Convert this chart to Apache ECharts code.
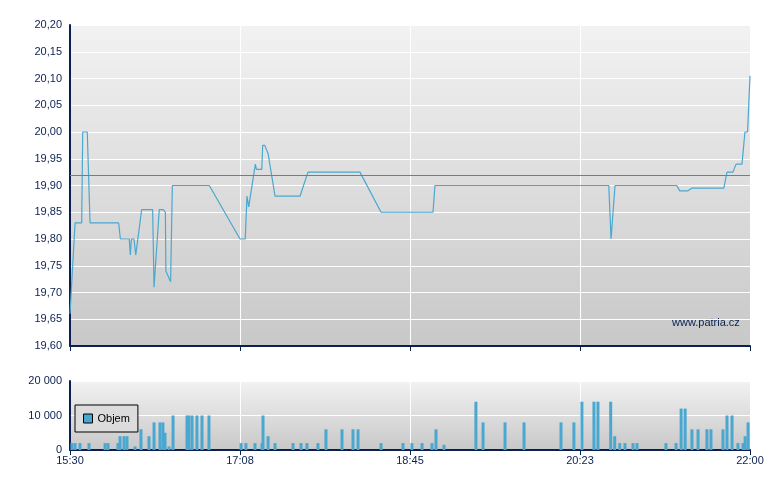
<!DOCTYPE html>
<html><head><meta charset="utf-8">
<script src="https://cdn.jsdelivr.net/npm/echarts@6/dist/echarts.min.js"></script>
<style>html,body{margin:0;padding:0;background:#fff}#c{width:780px;height:490px}</style>
</head><body><div id="c"></div>
<script>
// minutes since 15:30
const priceTimes = [0,2.9,6.7,7.3,9.9,11.5,27.9,28.9,34,34.6,35.2,36.7,37.7,41.1,47.4,48.2,51.2,53.5,54.7,55,57.7,58.7,79.9,97.5,100.5,101.5,102.5,106.3,106.9,110,110.5,111.7,113.6,117.6,131.9,136.5,166.3,178.4,208.2,209.3,309,310.3,311.4,312.6,348,349.7,354.4,356.6,375,376.8,380.2,382,385.4,387.1,388.6,390];
const priceValues = [19.66,19.83,19.83,20.00,20.00,19.83,19.83,19.80,19.80,19.77,19.80,19.80,19.77,19.855,19.855,19.71,19.855,19.855,19.85,19.74,19.72,19.90,19.90,19.80,19.80,19.88,19.86,19.94,19.93,19.93,19.975,19.975,19.96,19.88,19.88,19.925,19.925,19.85,19.85,19.90,19.90,19.80,19.80,19.90,19.90,19.89,19.89,19.895,19.895,19.925,19.925,19.94,19.94,20.00,20.00,20.105];
const refPrice = 19.92;
const volTimes = [1.1,2.9,5.7,10.9,20.1,21.8,27.5,28.7,31.0,32.7,37.3,40.7,45.3,48.2,51.6,53.3,54.5,56.8,59.1,67.1,68.2,70.0,72.8,75.7,79.7,98.1,100.9,106.1,110.1,110.7,113.6,117.6,127.9,132.5,135.9,142.2,146.8,156.0,162.3,165.2,178.4,191.0,196.1,201.9,207.6,209.9,214.5,232.8,236.9,249.5,260.4,281.6,289.0,293.6,300.5,302.8,310.1,312.4,315.3,318.3,322.9,325.2,341.8,347.6,350.5,352.8,356.7,360.2,365.3,367.6,374.5,376.8,379.7,383.1,386.0,387.2,388.9];
const volValues = [2000,2000,2000,2000,2000,2000,2000,4000,4000,4000,1000,6000,4000,8000,8000,8000,5000,1000,10000,10000,10000,10000,10000,10000,10000,2000,2000,2000,2000,10000,4000,2000,2000,2000,2000,2000,6000,6000,6000,6000,2000,2000,2000,2000,2000,6000,1500,14000,8000,8000,8000,8000,8000,14000,14000,14000,14000,4000,2000,2000,2000,2000,2000,2000,12000,12000,6000,6000,6000,6000,6000,10000,10000,2000,2000,4000,8000];
const xTickLabels = ['15:30','17:08','18:45','20:23','22:00'];

const axisCol = '#0a2050';
const grad = {type:'linear',x:0,y:0,x2:0,y2:1,colorStops:[{offset:0,color:'#f2f2f2'},{offset:1,color:'#c8c8c8'}]};
const font = {color:'#0a2050',fontSize:11,fontFamily:'Liberation Sans, Arial, sans-serif'};
const fmtX = v => xTickLabels[Math.round(v/97.5)] || '';
function xAxis(idx, showLabel){
  return {type:'value',gridIndex:idx,min:0,max:390,interval:97.5,
    axisLine:{lineStyle:{color:axisCol,width:2}},axisTick:{show:true,length:5,lineStyle:{color:axisCol}},
    axisLabel:Object.assign({show:showLabel,formatter:fmtX,margin:5},font),
    splitLine:{show:true,lineStyle:{color:'#ffffff',width:1}}};
}
const chart = echarts.init(document.getElementById('c'));
chart.setOption({
  animation:false,
  grid:[{left:70,top:25,width:680,height:321,show:true,backgroundColor:grad,borderWidth:0},
        {left:70,top:381,width:680,height:69,show:true,backgroundColor:grad,borderWidth:0}],
  xAxis:[xAxis(0,false),xAxis(1,true)],
  yAxis:[{type:'value',gridIndex:0,min:19.6,max:20.2,interval:0.05,
    axisLine:{show:true,lineStyle:{color:axisCol,width:2}},axisTick:{show:false},
    axisLabel:Object.assign({formatter:v=>v.toFixed(2).replace('.',',')},font),
    splitLine:{lineStyle:{color:'#ffffff'}}},
   {type:'value',gridIndex:1,min:0,max:20000,interval:10000,
    axisLine:{show:true,lineStyle:{color:axisCol,width:2}},axisTick:{show:false},
    axisLabel:Object.assign({formatter:v=>v===0?'0':(v/1000)+' 000'},font),
    splitLine:{lineStyle:{color:'#ffffff'}}}],
  legend:{left:75,top:405,orient:'vertical',data:[{name:'Objem',icon:'rect',itemStyle:{borderColor:'#000',borderWidth:1}}],
    itemWidth:9,itemHeight:9,itemGap:4,padding:[8,8,8,8],
    backgroundColor:'#dcdcdc',borderColor:'#000',borderWidth:1,
    textStyle:{color:'#000',fontSize:11,fontFamily:'Liberation Sans, Arial, sans-serif'}},
  graphic:[{type:'text',left:672,top:317,style:{text:'www.patria.cz',fill:'#0a2050',font:'11px Liberation Sans, Arial, sans-serif'}}],
  series:[
    {name:'Cena',type:'line',xAxisIndex:0,yAxisIndex:0,showSymbol:false,
     data:priceTimes.map((t,i)=>[t,priceValues[i]]),lineStyle:{color:'#4aa8d0',width:1.2},itemStyle:{color:'#4aa8d0'},
     markLine:{silent:true,symbol:'none',label:{show:false},lineStyle:{color:'#e05050',type:'solid',width:1},data:[{yAxis:refPrice}]}},
    {name:'Objem',type:'bar',xAxisIndex:1,yAxisIndex:1,barWidth:3,
     data:volTimes.map((t,i)=>[t,volValues[i]]),itemStyle:{color:'#4aa8d0'}}
  ]
});
</script></body></html>
